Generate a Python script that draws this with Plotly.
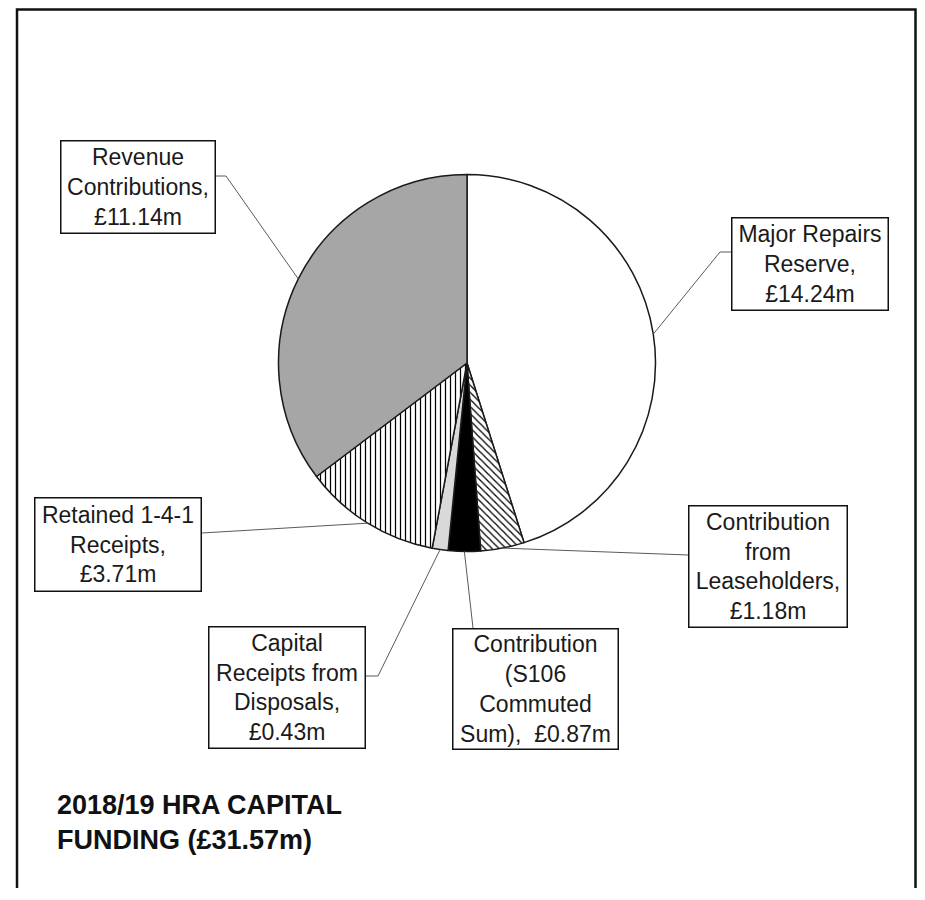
import math
import plotly.graph_objects as go

# ---------------- data ----------------
categories = [
    "Major Repairs Reserve",
    "Contribution from Leaseholders",
    "Contribution (S106 Commuted Sum)",
    "Capital Receipts from Disposals",
    "Retained 1-4-1 Receipts",
    "Revenue Contributions",
]
values_m = [14.24, 1.18, 0.87, 0.43, 3.71, 11.14]
label_texts = [
    "Major Repairs<br>Reserve,<br>£14.24m",
    "Contribution<br>from<br>Leaseholders,<br>£1.18m",
    "Contribution<br>(S106<br>Commuted<br>Sum), \u00a0£0.87m",
    "Capital<br>Receipts from<br>Disposals,<br>£0.43m",
    "Retained 1-4-1<br>Receipts,<br>£3.71m",
    "Revenue<br>Contributions,<br>£11.14m",
]
title_lines = ["2018/19 HRA CAPITAL", "FUNDING (£31.57m)"]

# ---------------- styling ----------------
slice_colors = ["white", "white", "black", "#d9d9d9", "white", "#a6a6a6"]
slice_patterns = ["", "\\", "", "", "|", ""]

OFF = 8                 # page offset of the plot div (body margin)
W, H = 925 - OFF, 880   # keep the page free of scrollbars
CX, CY, R = 467, 363, 188.5  # pie centre / radius in screen pixels


def px(x):
    return (x - OFF) / W


def py(y):
    return 1 - (y - OFF) / H


fig = go.Figure()
fig.add_trace(go.Pie(
    labels=categories,
    values=values_m,
    sort=False,
    direction="clockwise",
    rotation=0,
    textinfo="none",
    hoverinfo="label+value",
    showlegend=False,
    marker=dict(
        colors=slice_colors,
        line=dict(color="#1a1a1a", width=1.5),
        pattern=dict(shape=slice_patterns, fgcolor="black", size=5,
                     solidity=0.25, fillmode="replace"),
    ),
    domain=dict(x=[px(CX - R), px(CX + R)], y=[py(CY + R), py(CY - R)]),
))

# label boxes: centre x, centre y, width, height (screen pixels); leader anchor & elbow
boxes = [
    dict(c=(810, 264), s=(158, 94), anchor=(731, 252), elbow=(720, 252)),
    dict(c=(768, 566.5), s=(160, 123), anchor=(688, 555), elbow=None),
    dict(c=(535.5, 689), s=(167, 122), anchor=(473, 628), elbow=None),
    dict(c=(287, 687.5), s=(158, 123), anchor=(366, 676), elbow=(378, 676)),
    dict(c=(118, 544.5), s=(168, 95), anchor=(202, 533), elbow=None),
    dict(c=(138, 187), s=(156, 94), anchor=(216, 176), elbow=(226, 176)),
]

total = sum(values_m)
cum = 0.0
shapes = []
annotations = []
for v, txt, b in zip(values_m, label_texts, boxes):
    theta = 2 * math.pi * (cum + v / 2) / total
    cum += v
    ex = CX + R * math.sin(theta)
    ey = CY - R * math.cos(theta)
    pts = [b["anchor"]]
    if b["elbow"]:
        pts.append(b["elbow"])
    pts.append((ex, ey))
    path = "M " + " L ".join(f"{px(x):.5f},{py(y):.5f}" for x, y in pts)
    shapes.append(dict(type="path", xref="paper", yref="paper", path=path,
                       line=dict(color="#5a5a5a", width=1)))
    annotations.append(dict(
        x=px(b["c"][0]), y=py(b["c"][1]), xref="paper", yref="paper",
        xanchor="center", yanchor="middle", showarrow=False,
        text=txt, align="center", valign="middle",
        width=b["s"][0] - 3, height=b["s"][1] - 3,
        bordercolor="#111111", borderwidth=1.5, borderpad=0, bgcolor="white",
        font=dict(family="Liberation Sans, Arial, sans-serif", size=23, color="#1a1a1a"),
    ))

# title
annotations.append(dict(
    x=px(55), y=py(822), xref="paper", yref="paper",
    xanchor="left", yanchor="middle", showarrow=False, align="left",
    text="<b>" + "<br>".join(title_lines) + "</b>",
    font=dict(family="Liberation Sans, Arial, sans-serif", size=27, color="#111111"),
))

# outer chart frame (right edge kept inside the visible viewport)
shapes.append(dict(type="rect", xref="paper", yref="paper",
                   x0=px(17), x1=px(915.5), y0=py(915), y1=py(9.5),
                   line=dict(color="#111111", width=2.5), fillcolor="rgba(0,0,0,0)",
                   layer="below"))

fig.update_layout(
    width=W, height=H,
    margin=dict(l=0, r=0, t=0, b=0),
    paper_bgcolor="white", plot_bgcolor="white",
    shapes=shapes, annotations=annotations,
)

fig.write_html("out.html")
